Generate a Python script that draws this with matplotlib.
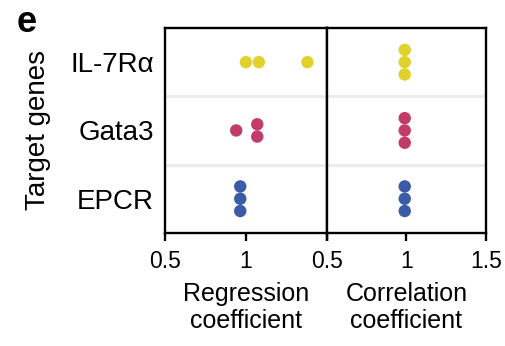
import matplotlib
matplotlib.use("Agg")
import matplotlib.pyplot as plt

plt.rcParams["font.family"] = ["Liberation Sans", "DejaVu Sans"]

# ── data ───────────────────────────────────────────────────────────────────────
genes = ["EPCR", "Gata3", "IL-7R\u03b1"]          # bottom to top
gene_colors = ["#3A5BA6", "#C33C68", "#E0D22A"]

regression = [
    [0.965, 0.965, 0.965],   # EPCR
    [0.94, 1.07, 1.07],      # Gata3
    [1.00, 1.08, 1.38],      # IL-7Ra
]
correlation = [
    [0.99, 0.99, 0.99],
    [0.99, 0.99, 0.99],
    [0.99, 0.99, 0.99],
]

x_ticks = [0.5, 1, 1.5]
x_tick_labels = [["0.5", "1", ""], ["0.5", "1", "1.5"]]
x_titles = ["Regression\ncoefficient", "Correlation\ncoefficient"]

STEP = 0.18  # vertical stacking step for identical values (data units)


def stack_offsets(values):
    # identical values are stacked vertically, centred on the row
    offsets = []
    for i, v in enumerate(values):
        same = [j for j, w in enumerate(values) if w == v]
        k = same.index(i)
        offsets.append((k - (len(same) - 1) / 2) * STEP)
    return offsets


fig = plt.figure(figsize=(5.06, 3.46), dpi=100)
ax_l = fig.add_axes([0.326, 0.327, 0.320, 0.592])
ax_r = fig.add_axes([0.646, 0.327, 0.314, 0.592], sharey=ax_l)

for ax, data, labels, title in zip([ax_l, ax_r], [regression, correlation],
                                   x_tick_labels, x_titles):
    for row, (vals, col) in enumerate(zip(data, gene_colors)):
        offs = stack_offsets(vals)
        ax.scatter(vals, [row + o for o in offs], s=80, color=col,
                   edgecolors="none", zorder=3)
    for sep in [0.5, 1.5]:
        ax.axhline(sep, color="#ebebeb", linewidth=2.2, zorder=1)
    ax.set_xlim(0.5, 1.5)
    ax.set_ylim(-0.5, 2.5)
    ax.set_xticks(x_ticks)
    ax.set_xticklabels(labels, fontsize=16.5)
    ax.tick_params(axis="x", direction="out", length=6, width=1.7, pad=6)
    ax.tick_params(axis="y", length=0)
    for sp in ax.spines.values():
        sp.set_linewidth(1.7)
    ax.set_xlabel(title, fontsize=18, linespacing=1.12, labelpad=7)

ax_l.set_yticks(range(len(genes)))
ax_l.set_yticklabels(genes, fontsize=20)
ax_l.tick_params(axis="y", pad=8)
ax_r.tick_params(axis="y", labelleft=False)
ax_l.set_ylabel("Target genes", fontsize=20, labelpad=14)

fig.text(0.033, 0.908, "e", fontsize=26, fontweight="bold", ha="left", va="baseline")

fig.savefig("out.png", dpi=100)
